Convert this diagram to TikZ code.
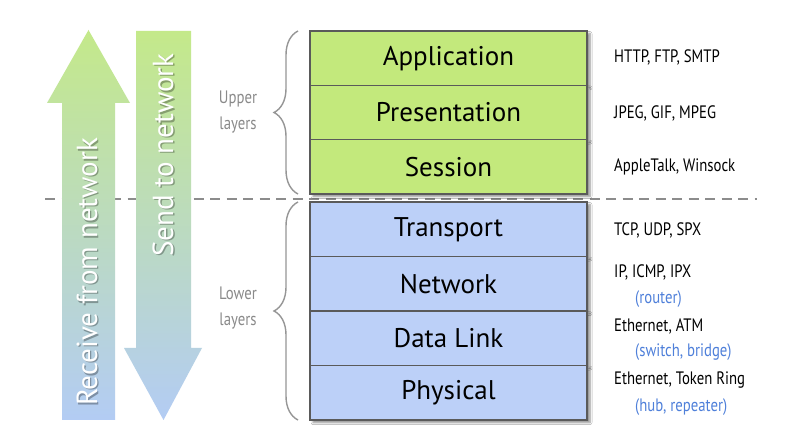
\documentclass[tikz,border=0pt]{standalone}
\usepackage{fontspec}
\setmainfont{PT Sans}
\newfontfamily\narrowfont[FakeStretch=0.82]{PT Sans}
\usetikzlibrary{decorations.pathreplacing,shadows.blur}

\definecolor{upgreen}{HTML}{C3E97C}
\definecolor{lowblue}{HTML}{BCD0F8}
\definecolor{arrowgreen}{HTML}{C4E98A}
\definecolor{arrowblue}{HTML}{B3CCF4}
\definecolor{boxline}{HTML}{5A5A5A}
\definecolor{guidegray}{HTML}{8C8C8C}
\definecolor{notegray}{HTML}{8A8A8A}
\definecolor{devblue}{HTML}{4F80DA}

\begin{document}
\begin{tikzpicture}[x=1pt,y=-1pt,
  layerbox/.style={draw=boxline, line width=1.4pt, minimum width=277pt,
    inner sep=0pt, font=\fontsize{27}{30}\selectfont, text=black,
    blur shadow={shadow xshift=3pt, shadow yshift=-2.5pt, shadow blur steps=6, shadow opacity=45}},
  upperbox/.style={layerbox, fill=upgreen, minimum height=54.3pt},
  lowerbox/.style={layerbox, fill=lowblue, minimum height=54.5pt},
  protolabel/.style={anchor=west, inner sep=0pt, font=\narrowfont\fontsize{18}{20}\selectfont, text=black},
  devlabel/.style={anchor=west, inner sep=0pt, font=\narrowfont\fontsize{18}{20}\selectfont, text=devblue},
  grouplabel/.style={align=center, inner sep=0pt, font=\narrowfont\fontsize{18}{26}\selectfont, text=notegray},
  groupbrace/.style={draw=notegray!90, line width=1.4pt, decorate,
    decoration={brace, amplitude=24pt, aspect=0.5}},
  flowarrow/.style={top color=arrowgreen, bottom color=arrowblue},
  arrowtext/.style={rotate=90, inner sep=0pt, text=white, font=\fontsize{29}{30}\selectfont},
  arrowtextshadow/.style={arrowtext, text=black, opacity=0.3},
  divider/.style={draw=guidegray, line width=1.5pt, dash pattern=on 10pt off 6.5pt}
]
\useasboundingbox (0,0) rectangle (804,438);
\fill[white] (0,0) rectangle (804,438);

% dashed divider between upper and lower layers
\coordinate (divL) at (45,199);
\coordinate (divR) at (757,199);
\draw[divider] (divL) -- (divR);

% direction arrows
\shade[flowarrow] (62,420) -- (62,103) -- (47,103) -- (88.5,30) -- (130,103)
  -- (115,103) -- (115,420) -- cycle;
\shade[flowarrow] (136,31) -- (191,31) -- (191,348) -- (202,348) -- (163.5,420)
  -- (124,348) -- (136,348) -- cycle;

\node[arrowtextshadow] (recvsh) at (88.4,273.4) {Receive from network};
\node[arrowtext] (recv) at (87,272) {Receive from network};
\node[arrowtextshadow] (sendsh) at (164.4,156.4) {Send to network};
\node[arrowtext] (send) at (163,155) {Send to network};

% layer stack
\node[upperbox] (app) at (448.5,58.2) {Application};
\node[upperbox] (pres) at (448.5,112.5) {Presentation};
\node[upperbox] (sess) at (448.5,166.8) {Session};
\node[lowerbox] (trans) at (448.5,229.3) {Transport};
\node[lowerbox] (net) at (448.5,283.8) {Network};
\node[lowerbox] (link) at (448.5,338.3) {Data Link};
\node[lowerbox] (phys) at (448.5,392.8) {Physical};

% group braces
\draw[groupbrace] (298,194) -- (298,31);
\draw[groupbrace] (298,420) -- (298,202);
\node[grouplabel] (upper) at (238,112) {Upper\\layers};
\node[grouplabel] (lower) at (238,308) {Lower\\layers};

% protocols and devices
\node[protolabel] (p1) at (614,57) {HTTP, FTP, SMTP};
\node[protolabel] (p2) at (614,113) {JPEG, GIF, MPEG};
\node[protolabel] (p3) at (614,167) {AppleTalk, Winsock};
\node[protolabel] (p4) at (614,230) {TCP, UDP, SPX};
\node[protolabel] (p5) at (614,272) {IP, ICMP, IPX};
\node[devlabel] (d5) at (635,299) {(router)};
\node[protolabel] (p6) at (614,326) {Ethernet, ATM};
\node[devlabel] (d6) at (635,352) {(switch, bridge)};
\node[protolabel] (p7) at (614,380) {Ethernet, Token Ring};
\node[devlabel] (d7) at (635,407) {(hub, repeater)};
\end{tikzpicture}
\end{document}
